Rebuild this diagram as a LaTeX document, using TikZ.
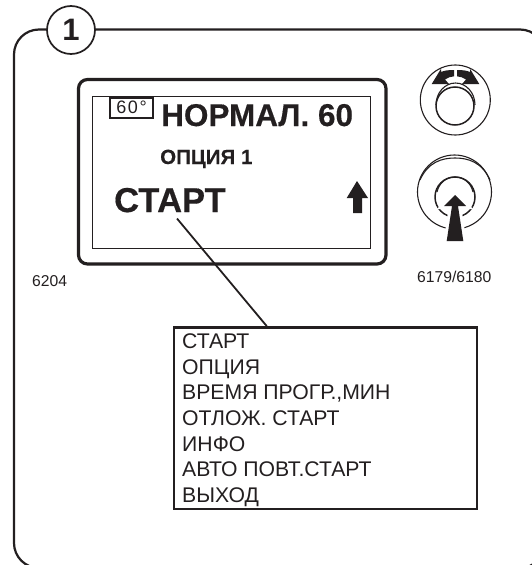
\documentclass[tikz,border=0pt]{standalone}
\usepackage{fontspec}
\setmainfont{Liberation Sans}
\usetikzlibrary{calc}
\definecolor{ink}{HTML}{231F20}
\tikzset{
  line/.style={draw=ink,line width=2.2pt},
  thin/.style={draw=ink,line width=1.1pt},
  head/.style={fill=ink,draw=none},
  big/.style={font=\fontsize{31.5}{32}\selectfont\bfseries\addfontfeature{FakeBold=0.4},inner sep=0pt,text=ink},
  small/.style={font=\fontsize{15.7}{16}\selectfont,inner sep=0pt,text=ink},
}
\begin{document}
\begin{tikzpicture}[x=1pt,y=-1pt]
\useasboundingbox (0,0) rectangle (532,565);
\clip (0,0) rectangle (532,565);
% frame and number
\draw[line,rounded corners=25pt] (14,29.5) rectangle (545,568);
\node[circle,minimum size=48pt,inner sep=0pt,draw=ink,line width=1.7pt,fill=white,font=\fontsize{31}{31}\selectfont\bfseries,text=ink] (num) at (71,30) {1};
% display
\draw[draw=ink,line width=3.2pt,rounded corners=9pt] (78.5,79.5) rectangle (386,264);
\draw[draw=ink,line width=0.8pt] (92,96) rectangle (370.7,248.5);
\node[draw=ink,line width=1.6pt,minimum width=43pt,minimum height=20pt,inner sep=0pt,font=\fontsize{18}{18}\selectfont\addfontfeature{LetterSpace=9},text=ink] (temp) at (131.5,107.7) {60°};
\node[big,anchor=base west] (prog) at (161,126) {НОРМАЛ. 60};
\node[big,anchor=base west,font=\fontsize{20.5}{20.5}\selectfont\bfseries\addfontfeature{FakeBold=0.2}] (opt) at (160,164) {ОПЦИЯ 1};
\node[big,anchor=base west,font=\fontsize{34.5}{35}\selectfont\bfseries\addfontfeature{FakeBold=0.4}] (start) at (114,212) {СТАРТ};
\fill[head] (357,181) -- (368,198) -- (362,198) -- (362,213) -- (353,213) -- (353,198) -- (346.7,198) -- cycle;
% menu
\node[draw=ink,line width=2.3pt,minimum width=302.7pt,minimum height=181.7pt,inner sep=0pt] (menu) at (325.3,418.2) {};
\foreach \i/\t in {0/СТАРТ,1/ОПЦИЯ,2/{ВРЕМЯ ПРОГР.,МИН},3/ОТЛОЖ. СТАРТ,4/ИНФО,5/АВТО ПОВТ.СТАРТ,6/ВЫХОД}{
  \node[small,font=\fontsize{21.2}{21}\selectfont,anchor=base west] (item\i) at (182,348.3+25.7*\i) {\t};}
\draw[draw=ink,line width=1.8pt] ([shift={(63pt,-6pt)}]start.south west) -- ([xshift=94pt]menu.north west);
% part numbers
\node[small,anchor=base west] (partl) at (32,286) {6204};
\node[small,anchor=base west] (partr) at (417,282.5) {6179/6180};
% upper knob
\draw[thin] (455.3,100) circle (35pt);
\draw[draw=ink,line width=1.5pt] (455,106) circle (19pt);
\draw[thin] (436,105) arc (180:0:19.5pt and 22pt);
\fill[head] (454,70) .. controls (449,70) and (444,70.5) .. (441,72) -- (441,68.8) -- (431.7,84) -- (449,84) -- (445,79.5) .. controls (448,77.5) and (451,76.5) .. (454,76.3) -- cycle;
\fill[head] (457,70) .. controls (462,70) and (467,70.5) .. (470,72) -- (470,68.8) -- (479.3,84) -- (462,84) -- (466,79.5) .. controls (463,77.5) and (460,76.5) .. (457,76.3) -- cycle;
% lower knob
\draw[thin] (454.5,192) circle (37pt);
\draw[thin] (420,180) .. controls (428,162) and (442,158) .. (455,158) .. controls (468,158) and (482,162) .. (490,180);
\draw[draw=ink,line width=1.5pt] (455,197) circle (20pt);
\draw[thin] (437,192) .. controls (439,183) and (446,177) .. (455,177) .. controls (464,177) and (471,183) .. (473,192);
\filldraw[draw=white,fill=white,line width=6pt] (455,195) -- (466,206) -- (458,206) -- (463.3,241) -- (446.7,241) -- (452,206) -- (444,206) -- cycle;
\fill[head] (455,195) -- (466,206) -- (458,206) -- (463.3,241) -- (446.7,241) -- (452,206) -- (444,206) -- cycle;
\end{tikzpicture}
\end{document}
